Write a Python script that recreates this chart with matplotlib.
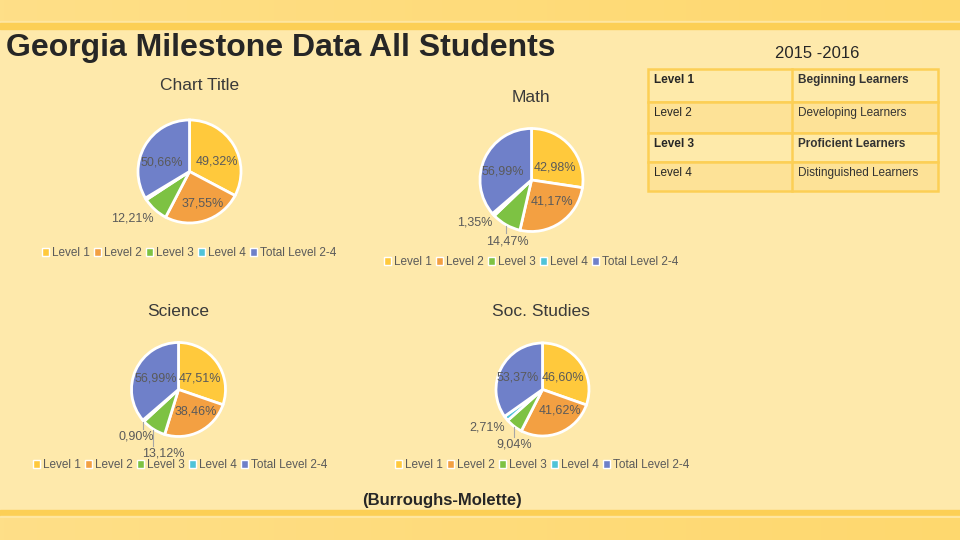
import numpy as np
import matplotlib
matplotlib.use("Agg")
import matplotlib.pyplot as plt
from matplotlib.patches import Rectangle, Patch
from matplotlib.colors import LinearSegmentedColormap

plt.rcParams['font.family'] = ['Liberation Sans', 'DejaVu Sans']

# ---------------- data ----------------
categories = ["Level 1", "Level 2", "Level 3", "Level 4", "Total Level 2-4"]
ela_values = [49.32, 37.55, 12.21, 0.90, 50.66]
ela_labels = ["49,32%", "37,55%", "12,21%", None, "50,66%"]
math_values = [42.98, 41.17, 14.47, 1.35, 56.99]
math_labels = ["42,98%", "41,17%", "14,47%", "1,35%", "56,99%"]
sci_values = [47.51, 38.46, 13.12, 0.90, 56.99]
sci_labels = ["47,51%", "38,46%", "13,12%", "0,90%", "56,99%"]
soc_values = [46.60, 41.62, 9.04, 2.71, 53.37]
soc_labels = ["46,60%", "41,62%", "9,04%", "2,71%", "53,37%"]

table_levels = ["Level 1", "Level 2", "Level 3", "Level 4"]
table_desc = ["Beginning Learners", "Developing Learners", "Proficient Learners", "Distinguished Learners"]
table_bold = [True, False, True, False]

colors = ["#FFC93C", "#F3A042", "#7DC243", "#4FC3D8", "#6F80C9"]
BG = "#FEE9AB"
LINE = "#FCCF55"
TXT = "#5A5A5A"

W, H = 960, 540
fig = plt.figure(figsize=(9.6, 5.4), dpi=100)
fig.patch.set_facecolor(BG)

bg = fig.add_axes([0, 0, 1, 1], zorder=0)
bg.set_xlim(0, W)
bg.set_ylim(H, 0)
bg.axis('off')

# top band with gradient
grad = np.linspace(0, 1, 256).reshape(1, -1)
cm = LinearSegmentedColormap.from_list("b", ["#FEDF88", "#FED86E"])
bg.imshow(grad, extent=(0, W, 21, 0), aspect='auto', cmap=cm, zorder=1)
bg.add_patch(Rectangle((0, 21), W, 2, color="#FEE6A0", zorder=1))
bg.add_patch(Rectangle((0, 23), W, 6, color=LINE, zorder=1))
# bottom band
bg.add_patch(Rectangle((0, 510), W, 6, color=LINE, zorder=1))
bg.add_patch(Rectangle((0, 516), W, 2, color="#FEE6A0", zorder=1))
bg.imshow(grad, extent=(0, W, 540, 518), aspect='auto', cmap=cm, zorder=1)

bg.text(6, 48, "Georgia Milestone Data All Students", fontsize=23, fontweight='bold',
        color="#262626", ha='left', va='center')
bg.text(817, 54, "2015 -2016", fontsize=12, color="#262626", ha='center', va='center')
bg.text(442, 501, "(Burroughs-Molette)", fontsize=12, fontweight='bold',
        color="#262626", ha='center', va='center')

# table
tx0, tx1, txm = 648, 938, 792
rows_y = [69, 102, 133, 162, 191]
fills = ["#FEEAAA", "#FDE297", "#FEEAAA", "#FDE297"]
for i in range(4):
    y0, y1 = rows_y[i], rows_y[i + 1]
    bg.add_patch(Rectangle((tx0, y0), tx1 - tx0, y1 - y0, facecolor=fills[i],
                           edgecolor=LINE, lw=1.8, zorder=2))
    bg.plot([txm, txm], [y0, y1], color=LINE, lw=1.8, zorder=3)
    fw = 'bold' if table_bold[i] else 'normal'
    bg.text(654, y0 + 11, table_levels[i], fontsize=8.5, fontweight=fw, color="#262626",
            ha='left', va='center', zorder=4)
    bg.text(798, y0 + 11, table_desc[i], fontsize=8.5, fontweight=fw, color="#333333",
            ha='left', va='center', zorder=4)

# charts
charts = [
    dict(title="Chart Title", tpos=(200, 86), c=(189.5, 171.5), r=51.5, vals=ela_values,
         labels=ela_labels, leg=(189, 253),
         lpos=[(0.54, 0.19), (0.25, -0.62), (-1.10, -0.92), None, (-0.54, 0.17)],
         lead=[False, False, False, False, False]),
    dict(title="Math", tpos=(531, 97), c=(531.5, 180), r=51.5, vals=math_values,
         labels=math_labels, leg=(531, 262),
         lpos=[(0.46, 0.25), (0.40, -0.41), (-0.46, -1.20), (-1.10, -0.83), (-0.55, 0.16)],
         lead=[False, False, True, False, False]),
    dict(title="Science", tpos=(178, 311), c=(178.5, 389.5), r=47, vals=sci_values,
         labels=sci_labels, leg=(180, 465),
         lpos=[(0.46, 0.24), (0.37, -0.46), (-0.33, -1.37), (-0.90, -1.01), (-0.48, 0.24)],
         lead=[False, False, True, True, False]),
    dict(title="Soc. Studies", tpos=(541, 311), c=(542.5, 389.5), r=46.5, vals=soc_values,
         labels=soc_labels, leg=(542, 465),
         lpos=[(0.44, 0.25), (0.38, -0.46), (-0.61, -1.19), (-1.19, -0.81), (-0.53, 0.25)],
         lead=[False, False, True, False, False]),
]

L = 1.75
for ch in charts:
    cx, cy = ch['c']
    r = ch['r']
    ax = fig.add_axes([(cx - L * r) / W, (H - cy - L * r) / H, 2 * L * r / W, 2 * L * r / H],
                      zorder=2)
    ax.patch.set_alpha(0)
    wedges, _ = ax.pie(ch['vals'], colors=colors, startangle=90, counterclock=False,
                       radius=1, wedgeprops=dict(edgecolor='white', linewidth=2))
    ax.set_xlim(-L, L)
    ax.set_ylim(-L, L)
    ax.axis('off')
    for w, lab, pos, ld in zip(wedges, ch['labels'], ch['lpos'], ch['lead']):
        if lab is None:
            continue
        ax.text(pos[0], pos[1], lab, fontsize=9, color=TXT, ha='center', va='center')
        if ld:
            mid = np.deg2rad((w.theta1 + w.theta2) / 2)
            ex, ey = np.cos(mid), np.sin(mid)
            ax.plot([ex, ex], [ey - 0.02, pos[1] + 0.17], color="#A6A6A6", lw=0.8)
    bg.text(ch['tpos'][0], ch['tpos'][1], ch['title'], fontsize=12.5, color="#3A3A3A",
            ha='center', va='center')
    handles = [Patch(facecolor=col, edgecolor='white', linewidth=1) for col in colors]
    fig.legend(handles, categories, loc='center',
               bbox_to_anchor=(ch['leg'][0] / W, 1 - ch['leg'][1] / H),
               ncol=5, frameon=False, fontsize=8.5, handlelength=0.6, handleheight=0.6,
               handletextpad=0.25, columnspacing=0.35, labelcolor=TXT, borderpad=0)

fig.savefig("out.png", dpi=100, facecolor=BG)
